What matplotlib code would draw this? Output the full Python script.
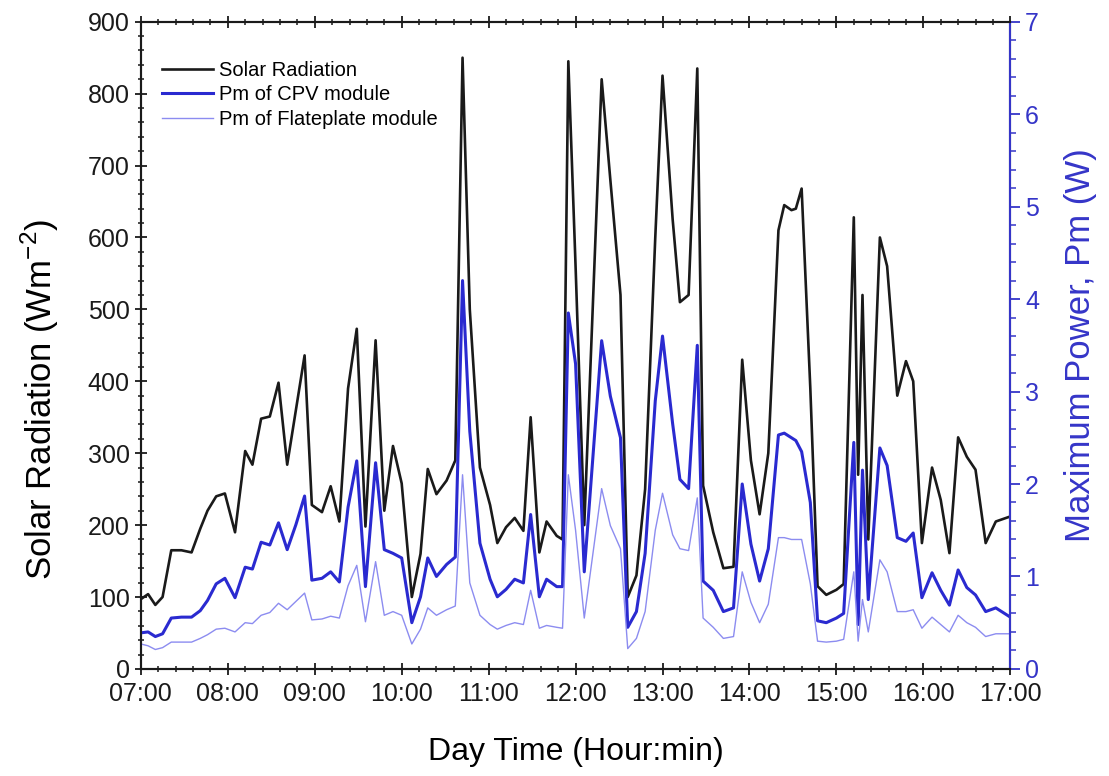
import numpy as np
import pandas as pd
import matplotlib
matplotlib.use('Agg')
import matplotlib.pyplot as plt
import matplotlib.dates as mdates
from matplotlib.ticker import MultipleLocator

plt.rcParams['font.family'] = ['Liberation Sans', 'DejaVu Sans']
plt.rcParams['mathtext.fontset'] = 'custom'
plt.rcParams['mathtext.rm'] = 'Liberation Sans'

# Logged samples (time of day)
times = [
    '07:00', '07:05', '07:10', '07:15', '07:21', '07:28', '07:35', '07:41', '07:46', '07:52',
    '07:58', '08:05', '08:12', '08:17', '08:23', '08:29', '08:35', '08:41', '08:47', '08:53',
    '08:58', '09:05', '09:11', '09:17', '09:23', '09:29', '09:35', '09:42', '09:48', '09:54',
    '10:00', '10:07', '10:13', '10:18', '10:24', '10:31', '10:37', '10:42', '10:47', '10:54',
    '11:01', '11:06', '11:12', '11:18', '11:24', '11:29', '11:35', '11:40', '11:47', '11:51',
    '11:55', '12:00', '12:06', '12:18', '12:24', '12:31', '12:36', '12:42', '12:48', '12:55',
    '13:00', '13:07', '13:12', '13:18', '13:24', '13:28', '13:35', '13:42', '13:49', '13:55',
    '14:01', '14:07', '14:13', '14:20', '14:24', '14:29', '14:32', '14:36', '14:42', '14:47',
    '14:53', '15:00', '15:05', '15:12', '15:15', '15:18', '15:22', '15:30', '15:35', '15:42',
    '15:48', '15:53', '15:59', '16:06', '16:12', '16:18', '16:24', '16:30', '16:36', '16:43',
    '16:50', '17:00',
]

# Solar radiation (W/m2)
solar = [
    97, 104, 89, 100, 165, 165, 162, 195, 220, 240,
    244, 190, 303, 284, 348, 351, 398, 284, 360, 436,
    228, 218, 254, 205, 390, 473, 198, 457, 220, 310,
    258, 100, 160, 278, 243, 262, 290, 850, 500, 280,
    228, 175, 197, 210, 192, 350, 162, 205, 185, 180,
    845, 560, 200, 820, 680, 520, 100, 130, 250, 600,
    825, 625, 510, 520, 835, 255, 190, 140, 142, 430,
    290, 215, 300, 610, 645, 638, 640, 668, 390, 115,
    103, 110, 118, 628, 270, 520, 180, 600, 560, 380,
    428, 400, 175, 280, 235, 161, 322, 295, 277, 175,
    205, 212,
]

# Maximum power of the CPV module (W)
pm_cpv = [
    0.39, 0.40, 0.35, 0.38, 0.55, 0.56, 0.56, 0.63, 0.74, 0.92,
    0.98, 0.77, 1.10, 1.08, 1.37, 1.34, 1.58, 1.29, 1.56, 1.87,
    0.96, 0.98, 1.05, 0.94, 1.75, 2.25, 0.89, 2.23, 1.29, 1.25,
    1.20, 0.50, 0.78, 1.20, 1.00, 1.13, 1.21, 4.20, 2.57, 1.36,
    0.97, 0.78, 0.86, 0.97, 0.93, 1.67, 0.78, 0.97, 0.89, 0.89,
    3.85, 3.30, 1.05, 3.55, 2.95, 2.50, 0.45, 0.62, 1.25, 2.90,
    3.60, 2.65, 2.05, 1.95, 3.50, 0.95, 0.85, 0.62, 0.66, 2.00,
    1.35, 0.95, 1.30, 2.53, 2.55, 2.50, 2.47, 2.35, 1.80, 0.52,
    0.50, 0.55, 0.60, 2.45, 0.48, 2.15, 0.75, 2.39, 2.20, 1.42,
    1.38, 1.47, 0.77, 1.04, 0.85, 0.69, 1.07, 0.88, 0.80, 0.62,
    0.66, 0.56,
]

# Maximum power of the flat-plate module (W)
pm_flat = [
    0.27, 0.25, 0.21, 0.23, 0.29, 0.29, 0.29, 0.33, 0.37, 0.43,
    0.44, 0.40, 0.50, 0.49, 0.58, 0.61, 0.71, 0.64, 0.73, 0.82,
    0.53, 0.54, 0.57, 0.55, 0.90, 1.12, 0.51, 1.16, 0.58, 0.62,
    0.58, 0.27, 0.43, 0.66, 0.58, 0.64, 0.68, 2.10, 0.93, 0.58,
    0.48, 0.43, 0.47, 0.50, 0.48, 0.85, 0.44, 0.47, 0.45, 0.44,
    2.10, 1.50, 0.55, 1.95, 1.55, 1.30, 0.22, 0.33, 0.62, 1.50,
    1.90, 1.45, 1.30, 1.28, 1.85, 0.55, 0.45, 0.33, 0.35, 1.05,
    0.72, 0.50, 0.70, 1.42, 1.42, 1.40, 1.40, 1.40, 0.92, 0.30,
    0.29, 0.30, 0.32, 1.05, 0.30, 0.75, 0.40, 1.18, 1.05, 0.62,
    0.62, 0.64, 0.44, 0.56, 0.48, 0.40, 0.58, 0.50, 0.45, 0.35,
    0.38, 0.38,
]

BLACK = '#1a1a1a'
BLUE = '#2a2ad0'
LIGHT_BLUE = '#8c8cf0'
AXIS_BLUE = '#3535c8'

t = pd.to_datetime(times, format='%H:%M')

fig = plt.figure(figsize=(11.09, 7.76), dpi=100)
ax = fig.add_axes([0.127, 0.138, 0.784, 0.834])
ax2 = ax.twinx()

l1, = ax.plot(t, solar, color=BLACK, lw=1.9, label='Solar Radiation')
l2, = ax2.plot(t, pm_cpv, color=BLUE, lw=2.2, label='Pm of CPV module')
l3, = ax2.plot(t, pm_flat, color=LIGHT_BLUE, lw=1.0, label='Pm of Flateplate module')

# x axis: 07:00 - 17:00, hourly labels, 12-minute minor ticks
ax.set_xlim(pd.Timestamp('1900-01-01 07:00'), pd.Timestamp('1900-01-01 17:00'))
ax.xaxis.set_major_locator(mdates.HourLocator())
ax.xaxis.set_minor_locator(mdates.MinuteLocator(byminute=[12, 24, 36, 48]))
ax.xaxis.set_major_formatter(mdates.DateFormatter('%H:%M'))

ax.set_ylim(0, 900)
ax.yaxis.set_major_locator(MultipleLocator(100))
ax.yaxis.set_minor_locator(MultipleLocator(20))
ax2.set_ylim(0, 7)
ax2.yaxis.set_major_locator(MultipleLocator(1))
ax2.yaxis.set_minor_locator(MultipleLocator(0.2))

for s in ax.spines.values():
    s.set_linewidth(1.5)
    s.set_color(BLACK)
for name, s in ax2.spines.items():
    s.set_linewidth(1.5)
    s.set_color(AXIS_BLUE if name == 'right' else BLACK)

ax.tick_params(axis='both', which='major', direction='inout', length=9, width=1.3,
               labelsize=18, colors=BLACK, top=True)
ax.tick_params(axis='both', which='minor', direction='inout', length=5, width=1.1,
               colors=BLACK, top=True)
ax.tick_params(axis='x', which='both', labeltop=False)
ax.tick_params(axis='x', pad=5)
ax2.tick_params(axis='y', which='major', direction='out', length=7, width=1.3,
                labelsize=18, colors=AXIS_BLUE)
ax2.tick_params(axis='y', which='minor', direction='out', length=4, width=1.1,
                colors=AXIS_BLUE)

ax.set_xlabel('Day Time (Hour:min)', fontsize=23, labelpad=22)
ax.set_ylabel('Solar Radiation (Wm$^{-2}$)', fontsize=25)
ax.yaxis.set_label_coords(-0.092, 0.417)
ax2.set_ylabel('Maximum Power, Pm (W)', fontsize=25, color=AXIS_BLUE, labelpad=18)

ax.legend(handles=[l1, l2, l3], loc='upper left', bbox_to_anchor=(0.004, 0.968),
          frameon=False, fontsize=14.5, handlelength=2.5, handletextpad=0.3,
          labelspacing=0.28)

fig.savefig('out.png', dpi=100)
